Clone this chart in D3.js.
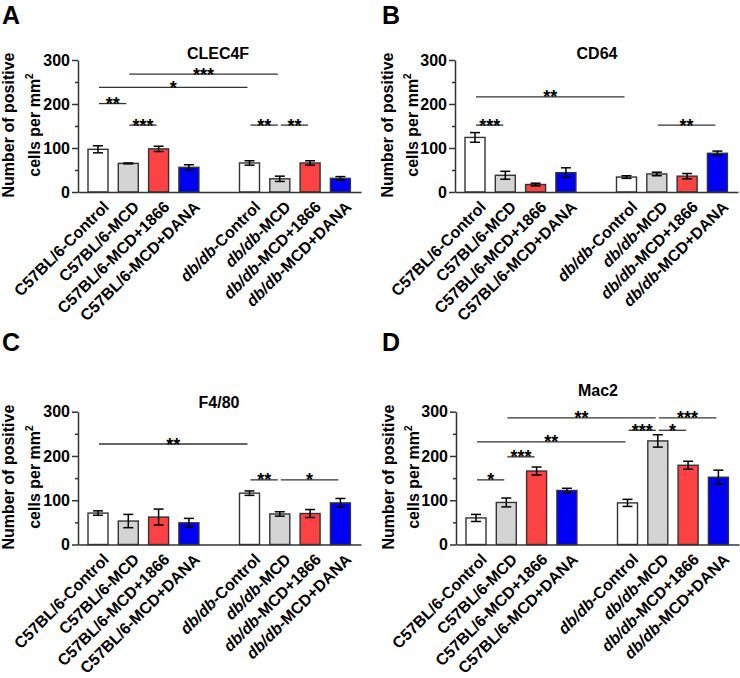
<!DOCTYPE html>
<html>
<head>
<meta charset="utf-8">
<script src="https://cdn.jsdelivr.net/npm/d3@7"></script>
<style>
  html, body { margin: 0; padding: 0; background: #fff; }
  svg { display: block; font-family: "Liberation Sans", Arial, Helvetica, sans-serif; }
</style>
</head>
<body>
<svg id="chart" width="740" height="678"></svg>
<script>
// ---------------- DATA ----------------
const categories = [
  "C57BL/6-Control", "C57BL/6-MCD", "C57BL/6-MCD+1866", "C57BL/6-MCD+DANA",
  "db/db-Control", "db/db-MCD", "db/db-MCD+1866", "db/db-MCD+DANA"
];
const yTicks = [0, 100, 200, 300];
const yMinorTicks = [50, 150, 250];

const clec4fMean = [97, 65, 98, 56, 66, 30, 66, 31];
const clec4fErr  = [8, 1, 6, 6, 5, 6, 5, 4];
const cd64Mean   = [124, 38, 17, 44, 34, 41, 36, 88];
const cd64Err    = [11, 9, 3, 11, 3, 4, 6, 5];
const f480Mean   = [71, 53, 62, 49, 116, 69, 70, 94];
const f480Err    = [5, 15, 18, 10, 5, 5, 9, 10];
const mac2Mean   = [60, 95, 166, 122, 94, 234, 179, 152];
const mac2Err    = [8, 10, 9, 5, 8, 14, 9, 16];

// significance brackets: [fromIndex, toIndex, yValue, label]
const clec4fSig = [[1,5,268,"***"],[0,4,238,"*"],[0,1,201,"**"],[1,2,152,"***"],[4,5,152,"**"],[5,6,152,"**"]];
const cd64Sig   = [[0,4,216,"**"],[0,1,152,"***"],[5,7,152,"**"]];
const f480Sig   = [[0,4,227,"**"],[4,5,146,"**"],[5,7,146,"*"]];
const mac2Sig   = [[1,5,286,"**"],[5,7,286,"***"],[4,5,258,"***"],[5,6,258,"*"],[0,4,232,"**"],[1,2,198,"***"],[0,1,146,"*"]];

const panelTitles = ["CLEC4F", "CD64", "F4/80", "Mac2"];
const panelLetters = ["A", "B", "C", "D"];

// ---------------- STYLE / LAYOUT ----------------
const barFill = ["#ffffff", "#d4d4d4", "#fc4242", "#0000f5", "#ffffff", "#d4d4d4", "#fc4242", "#0000f5"];
const slotKeys = ["0","1","2","3","gap","4","5","6","7"];

const panels = [
  {mean: clec4fMean, err: clec4fErr, sig: clec4fSig, x0: 78,  y0: 192,   yTop: 60,    titleX: 218, titleY: 59,    lx: 2,   ly: 23.5, yl1: -64, yl2: -38},
  {mean: cd64Mean,   err: cd64Err,   sig: cd64Sig,   x0: 455, y0: 192,   yTop: 60,    titleX: 597, titleY: 59,    lx: 382, ly: 23.5, yl1: -62.5, yl2: -37},
  {mean: f480Mean,   err: f480Err,   sig: f480Sig,   x0: 78,  y0: 544.5, yTop: 411.7, titleX: 219, titleY: 408.3, lx: 2,   ly: 351, yl1: -64, yl2: -38},
  {mean: mac2Mean,   err: mac2Err,   sig: mac2Sig,   x0: 456, y0: 544.5, yTop: 411.7, titleX: 598, titleY: 395.7, lx: 382, ly: 351, yl1: -62.5, yl2: -37}
];

const svg = d3.select("#chart");
const axisColor = "#333";

panels.forEach((p, pi) => {
  const g = svg.append("g");
  const x = d3.scalePoint().domain(slotKeys).range([p.x0 + 20, p.x0 + 262.4]);
  const xc = i => x(String(i));
  const y = d3.scaleLinear().domain([0, 300]).range([p.y0, p.yTop]);
  const barW = 20;

  // panel letter
  g.append("text").attr("x", p.lx).attr("y", p.ly)
    .attr("font-size", 25).attr("font-weight", "bold").attr("fill", "#000")
    .text(panelLetters[pi]);

  // title
  g.append("text").attr("x", p.titleX).attr("y", p.titleY)
    .attr("text-anchor", "middle").attr("font-size", 16).attr("font-weight", "bold")
    .text(panelTitles[pi]);

  // y axis label
  const cy = (p.y0 + p.yTop) / 2 - 1;
  g.append("text")
    .attr("transform", `translate(${p.x0 + p.yl1},${cy}) rotate(-90)`)
    .attr("text-anchor", "middle").attr("font-size", 16).attr("font-weight", "bold")
    .text("Number of positive");
  const l2 = g.append("text")
    .attr("transform", `translate(${p.x0 + p.yl2},${cy}) rotate(-90)`)
    .attr("text-anchor", "middle").attr("font-size", 16).attr("font-weight", "bold");
  l2.append("tspan").text("cells per mm");
  l2.append("tspan").attr("font-size", 10).attr("dy", -7).text("2");

  // bars
  const data = p.mean.map((m, i) => ({i, m, e: p.err[i]}));
  g.selectAll("rect.bar").data(data).enter().append("rect")
    .attr("x", d => xc(d.i) - barW / 2)
    .attr("y", d => y(d.m))
    .attr("width", barW)
    .attr("height", d => y(0) - y(d.m))
    .attr("fill", d => barFill[d.i])
    .attr("stroke", axisColor).attr("stroke-width", 1.4);

  // error bars
  const eb = g.selectAll("g.eb").data(data).enter().append("g")
    .attr("stroke", "#000").attr("stroke-width", 1.5);
  eb.append("line").attr("x1", d => xc(d.i)).attr("x2", d => xc(d.i))
    .attr("y1", d => y(d.m + d.e)).attr("y2", d => y(d.m - d.e));
  eb.append("line").attr("x1", d => xc(d.i) - 5).attr("x2", d => xc(d.i) + 5)
    .attr("y1", d => y(d.m + d.e)).attr("y2", d => y(d.m + d.e));
  eb.append("line").attr("x1", d => xc(d.i) - 5).attr("x2", d => xc(d.i) + 5)
    .attr("y1", d => y(d.m - d.e)).attr("y2", d => y(d.m - d.e));

  // y axis
  const ya = g.append("g").attr("transform", `translate(${p.x0},0)`)
    .call(d3.axisLeft(y).tickValues(yTicks).tickSize(6).tickSizeOuter(0).tickPadding(2));
  ya.select(".domain").attr("stroke", axisColor).attr("stroke-width", 1.5);
  ya.selectAll(".tick line").attr("stroke", axisColor).attr("stroke-width", 1.5);
  ya.selectAll(".tick text").attr("font-size", 16).attr("font-weight", "bold")
    .attr("font-family", "Liberation Sans, Arial, sans-serif").attr("fill", "#000");
  const ym = g.append("g").attr("transform", `translate(${p.x0},0)`)
    .call(d3.axisLeft(y).tickValues(yMinorTicks).tickSize(3).tickSizeOuter(0).tickFormat(""));
  ym.select(".domain").remove();
  ym.selectAll(".tick line").attr("stroke", axisColor).attr("stroke-width", 1.5);

  // x axis
  const xa = g.append("g").attr("transform", `translate(0,${p.y0})`)
    .call(d3.axisBottom(d3.scaleLinear().domain([0, 1]).range([p.x0, p.x0 + 283])).tickValues([]).tickSizeOuter(0));
  xa.select(".domain").attr("stroke", axisColor).attr("stroke-width", 1.5);

  // x labels
  categories.forEach((c, i) => {
    const t = g.append("text")
      .attr("transform", `translate(${xc(i) + 8},${p.y0 + 12}) rotate(-45)`)
      .attr("text-anchor", "end").attr("dy", "0.35em")
      .attr("font-size", 16).attr("font-weight", "bold");
    if (c.startsWith("db/db")) {
      t.append("tspan").attr("font-style", "italic").text("db/db");
      t.append("tspan").text(c.slice(5));
    } else {
      t.text(c);
    }
  });

  // significance brackets
  p.sig.forEach(([a, b, v, lab]) => {
    const x1 = xc(a) + 1, x2 = xc(b) - 2, yy = y(v);
    g.append("line").attr("x1", x1).attr("x2", x2).attr("y1", yy).attr("y2", yy)
      .attr("stroke", axisColor).attr("stroke-width", 1.3);
    g.append("text").attr("x", (x1 + x2) / 2).attr("y", yy + 6.5)
      .attr("text-anchor", "middle").attr("font-size", 18).attr("font-weight", "bold")
      .text(lab);
  });
});
</script>
</body>
</html>
